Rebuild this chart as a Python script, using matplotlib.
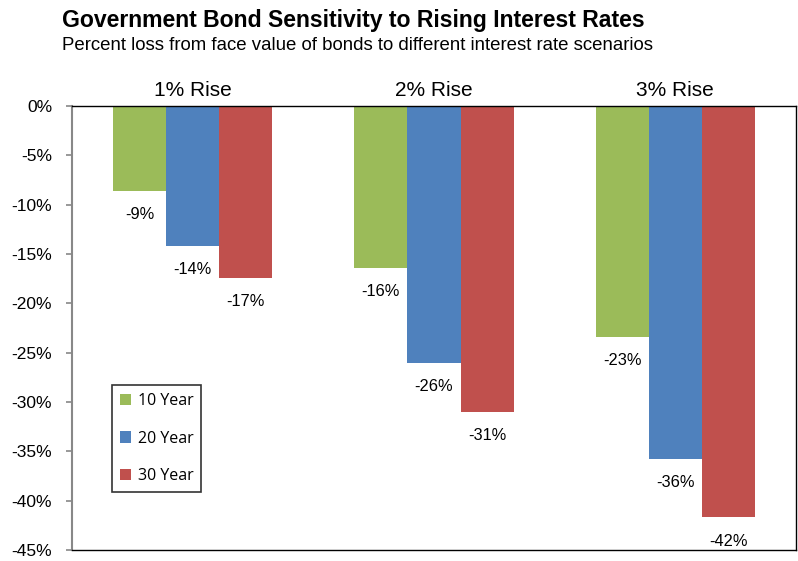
import numpy as np
import matplotlib.pyplot as plt
from matplotlib import font_manager

scenarios = ['1% Rise', '2% Rise', '3% Rise']
series = ['10 Year', '20 Year', '30 Year']
loss_10yr = [-8.6, -16.4, -23.4]
loss_20yr = [-14.2, -26.0, -35.8]
loss_30yr = [-17.4, -31.0, -41.7]
labels_10yr = ['-9%', '-16%', '-23%']
labels_20yr = ['-14%', '-26%', '-36%']
labels_30yr = ['-17%', '-31%', '-42%']
colors = ['#9BBB59', '#4F81BD', '#C0504D']

# pick the regular-width Liberation Sans Bold (not the Narrow one)
bold_file = None
for f in font_manager.fontManager.ttflist:
    if f.fname.endswith('LiberationSans-Bold.ttf'):
        bold_file = f.fname
if bold_file:
    title_font = font_manager.FontProperties(fname=bold_file, size=16.6)
else:
    title_font = font_manager.FontProperties(family='Liberation Sans', weight='bold', size=16.6)

fig = plt.figure(figsize=(7.98, 5.61), dpi=100)
ax = fig.add_axes([0.0902, 0.0196, 0.9073, 0.7914])

x = np.arange(len(scenarios))
w = 0.22
data = [loss_10yr, loss_20yr, loss_30yr]
labels = [labels_10yr, labels_20yr, labels_30yr]
for i in range(3):
    pos = x + (i - 1) * w
    ax.bar(pos, data[i], width=w, color=colors[i], label=series[i])
    for px, v, t in zip(pos, data[i], labels[i]):
        ax.annotate(t, (px, v), xytext=(0, -17), textcoords='offset points',
                    ha='center', va='center', fontsize=11.8, family='Liberation Sans')

ax.set_xlim(-0.5, 2.5)
ax.set_ylim(-45, 0)
ax.set_yticks(np.arange(0, -46, -5))
ax.set_yticklabels(['%d%%' % v for v in np.arange(0, -46, -5)],
                   fontsize=12.5, family='Liberation Sans')
ax.set_xticks([])
ax.tick_params(axis='y', direction='out', length=4.3, color='#888888', width=1.2, pad=10)
ax.spines['left'].set_color('#888888')
ax.spines['left'].set_linewidth(1.5)
for s in ['top', 'right', 'bottom']:
    ax.spines[s].set_color('black')
    ax.spines[s].set_linewidth(1.0)

for xi, s in zip(x, scenarios):
    ax.annotate(s, (xi, 1.0), xycoords=('data', 'axes fraction'),
                xytext=(0, 7), textcoords='offset points',
                ha='center', va='baseline', fontsize=15, family='Liberation Sans')

leg = ax.legend(loc='upper left', bbox_to_anchor=(0.0552, 0.3716), frameon=True,
                fancybox=False, edgecolor='black', handlelength=0.7, handleheight=0.7,
                labelspacing=1.35, borderpad=0.5, handletextpad=0.4, borderaxespad=0,
                prop={'family': 'Open Sans', 'size': 11.5})
leg.get_frame().set_linewidth(1.2)

fig.text(0.078, 0.9524, 'Government Bond Sensitivity to Rising Interest Rates',
         fontproperties=title_font, va='baseline')
fig.text(0.078, 0.911, 'Percent loss from face value of bonds to different interest rate scenarios',
         fontsize=13.4, family='Liberation Sans', va='baseline')

fig.savefig('out.png', dpi=100)
